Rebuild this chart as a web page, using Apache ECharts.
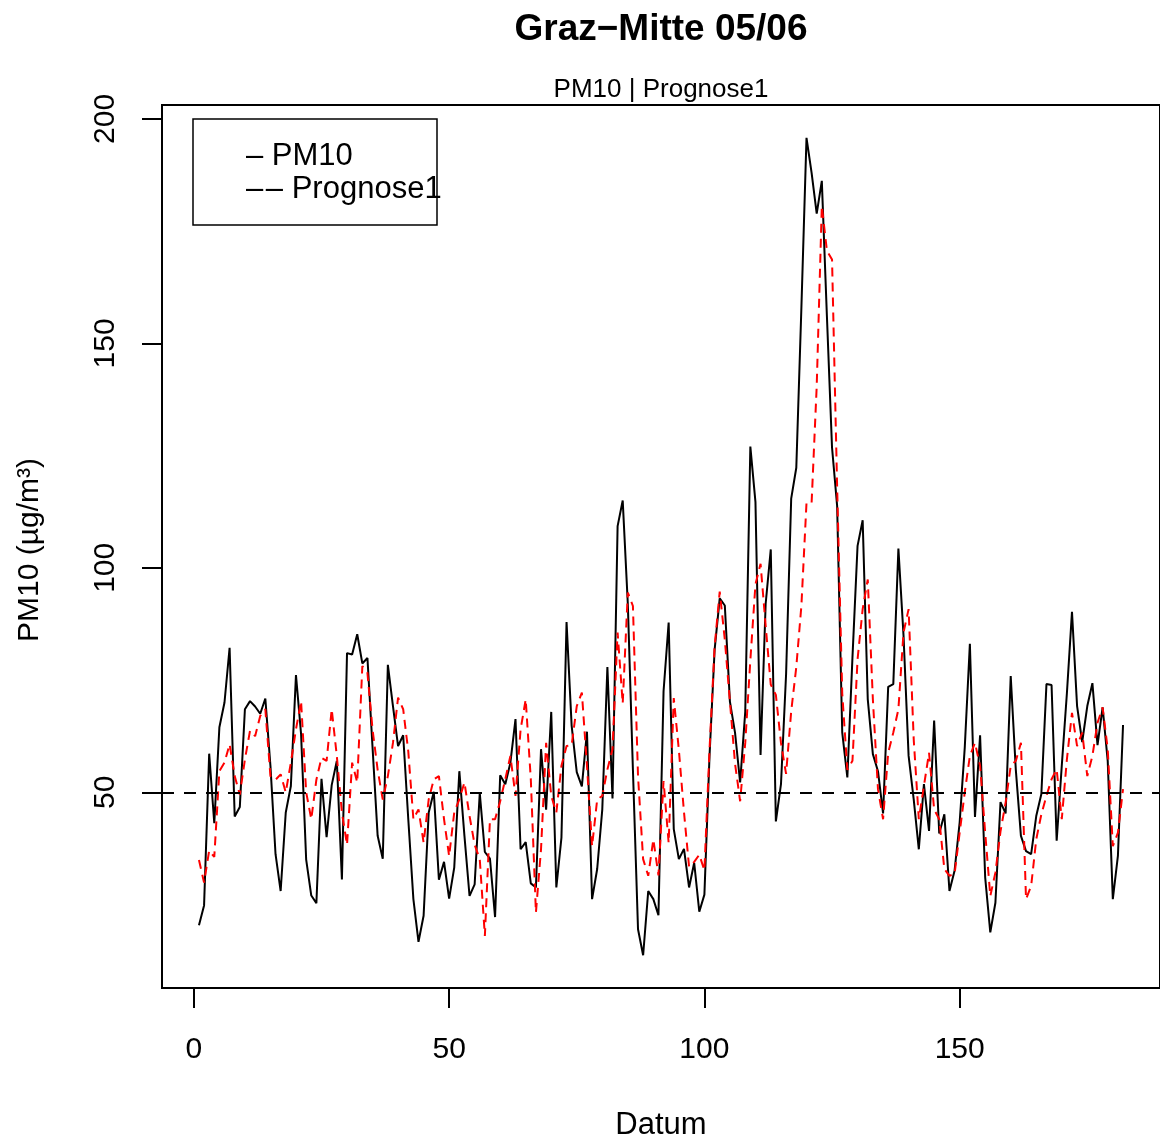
<!DOCTYPE html>
<html>
<head>
    <meta charset="utf-8">
    <title>Graz-Mitte 05/06</title>
    <script type="text/javascript" src="https://cdn.jsdelivr.net/npm/echarts@6/dist/echarts.min.js"></script>
</head>
<body style="margin:0px">
    <div id="main" style="width: 1160px; height: 1140px;"></div>
    <script type="text/javascript">
        // PM10 gemessen, Tag 1..182
        var pm10 = [
            20.4, 24.8, 58.6, 43.1, 64.5, 70, 82.2, 44.6, 46.7, 68.5,
            70.3, 69.1, 67.5, 70.9, 55.9, 36.2, 28.0, 45.5, 51.4, 76.1,
            63, 35, 27, 25.3, 53, 40, 51.6, 57, 30.6, 81,
            80.7, 85.2, 78.7, 79.9, 60, 40.3, 35.2, 78.4, 69.2, 60.3,
            62.7, 44.0, 26.2, 16.7, 22.5, 45.5, 50.1, 30.5, 34.5, 26.3,
            33.2, 54.7, 40.3, 26.9, 29.5, 49.8, 36.7, 35.2, 22.2, 53.8,
            51.8, 56.6, 66.3, 37.3, 38.9, 29.7, 28.8, 59.6, 46.1, 67.9,
            28.8, 39.9, 87.9, 64.8, 54.5, 51.3, 63.5, 26.2, 32.9, 46.2,
            77.9, 48.6, 109.3, 115, 92, 55, 19.5, 13.7, 28, 26.2,
            22.6, 72.5, 87.8, 41.8, 35.1, 37.4, 28.8, 34.3, 23.4, 27.2,
            58, 81.7, 93.2, 91.6, 70.2, 63.3, 52.2, 67.9, 127, 114.7,
            58.3, 92, 104.1, 43.5, 51.8, 76.3, 115.4, 122.3, 158, 195.8,
            188, 178.9, 186.2, 156, 126.8, 113.8, 63.3, 53.3, 80, 104.9,
            110.6, 70.7, 58.5, 54.7, 45.3, 73.5, 74.1, 104.3, 85, 58.1,
            48.4, 37.3, 51.8, 41.4, 66.0, 40.8, 45.1, 28.0, 32.5, 43.3,
            60, 83.1, 44.5, 62.7, 31.0, 18.8, 25.4, 47.8, 45.3, 75.9,
            55, 40.3, 36.9, 36.2, 44.7, 49.6, 74.1, 73.9, 39.2, 55.9,
            72, 90.2, 69.2, 61.2, 69.2, 74.3, 60.5, 68.9, 57.0, 26.2,
            35.9, 65.0
        ];
        // Prognose1
        var prognose1 = [
            34.9, 29.9, 37, 35.6, 54.7, 56.6, 60.7, 53.6, 49.5, 57.3,
            63.7, 62.5, 67, 68.5, 53.6, 52.8, 54, 50, 56.6, 64,
            70.3, 50, 44, 52.8, 57.7, 57, 68.5, 58.1, 45.5, 38.3,
            56.6, 52.2, 78.1, 76.6, 64, 55, 48.4, 53.6, 61, 71.1,
            68.5, 59.1, 44, 46.2, 38.8, 48.4, 52.9, 53.6, 44, 35.8,
            45.5, 48.4, 52.2, 44.7, 38.3, 35.1, 18, 44, 44, 48,
            52.9, 58.1, 49.2, 64, 70.7, 52.9, 23.2, 37.3, 61, 49.2,
            45.5, 55.9, 60.3, 60.5, 69.2, 72.2, 55.9, 38, 48.4, 49.2,
            55.1, 59.6, 85.6, 69.8, 94.5, 91.5, 53.6, 35.1, 31.4, 39.5,
            31.5, 52.5, 38.7, 71, 59.4, 45.6, 33.4, 34.5, 36.1, 32.6,
            59.4, 82.4, 94.7, 84, 70.2, 56.4, 48, 61, 79.4, 96.3,
            100.9, 87.1, 74, 71.7, 61, 54.1, 68, 77.9, 91.6, 114.5,
            114.5, 140.5, 180.6, 170.6, 168.7, 118, 72, 55, 57, 79.6,
            90.8, 97.4, 70.7, 50.7, 44, 58.8, 63.3, 68.5, 85.6, 90.8,
            61.8, 44, 51.4, 58.8, 46.2, 44, 32.9, 31.4, 31.8, 41,
            50, 58.1, 61, 55.9, 41, 26.9, 32.1, 41.3, 47.7, 55.9,
            57, 61, 26.2, 29.1, 39.5, 45.1, 49.2, 52.9, 55.1, 44,
            57.3, 67.7, 60.3, 63.3, 53.6, 58.1, 65.5, 68.9, 59.6, 38,
            41, 50.7
        ];
        var xTicks = [0, 50, 100, 150];
        var yTicks = [50, 100, 150, 200];
        var grenzwert = 50;

        var font = 'Liberation Sans, Arial, Helvetica, sans-serif';

        function toPairs (arr) {
            var out = [];
            for (var i = 0; i < arr.length; i++) {
                out.push([i + 1, arr[i]]);
            }
            return out;
        }

        var myChart = echarts.init(document.getElementById('main'));
        myChart.setOption({
            animation: false,
            backgroundColor: '#fff',
            grid: {
                left: 162, top: 105, width: 1000, height: 883,
                show: true, borderColor: '#000', borderWidth: 2
            },
            xAxis: {
                type: 'value', min: -6.24, max: 189.24,
                splitLine: { show: false },
                axisLine: { show: false, onZero: false },
                axisTick: { show: true, customValues: xTicks, length: 20, lineStyle: { color: '#000', width: 2 } },
                axisLabel: { customValues: xTicks, fontSize: 30, color: '#000', margin: 47, fontFamily: font }
            },
            yAxis: {
                type: 'value', min: 6.4, max: 203.1,
                splitLine: { show: false },
                axisLine: { show: false, onZero: false },
                axisTick: { show: true, customValues: yTicks, length: 20, lineStyle: { color: '#000', width: 2 } },
                axisLabel: { customValues: yTicks, rotate: 90, fontSize: 30, color: '#000', margin: 41, fontFamily: font }
            },
            series: [
                {
                    name: 'PM10', type: 'line', data: toPairs(pm10),
                    showSymbol: false, symbol: 'none',
                    lineStyle: { color: '#000', width: 2 }
                },
                {
                    name: 'Prognose1', type: 'line', data: toPairs(prognose1),
                    showSymbol: false, symbol: 'none',
                    lineStyle: { color: '#ff0000', width: 2, type: [9, 6] },
                    markLine: {
                        silent: true, symbol: 'none', label: { show: false },
                        lineStyle: { color: '#000', width: 2, type: [12, 10] },
                        data: [{ yAxis: grenzwert }]
                    }
                }
            ],
            graphic: [
                { type: 'text', x: 661, y: 30, style: { text: 'Graz\u2212Mitte 05/06', font: 'bold 37px ' + font, fill: '#000', textAlign: 'center', textVerticalAlign: 'middle' } },
                { type: 'text', x: 661, y: 90, style: { text: 'PM10 | Prognose1', font: '26px ' + font, fill: '#000', textAlign: 'center', textVerticalAlign: 'middle' } },
                { type: 'text', x: 661, y: 1125, style: { text: 'Datum', font: '31px ' + font, fill: '#000', textAlign: 'center', textVerticalAlign: 'middle' } },
                { type: 'text', x: 30, y: 550, rotation: Math.PI / 2, style: { text: 'PM10 (\u00b5g/m\u00b3)', font: '30px ' + font, fill: '#000', textAlign: 'center', textVerticalAlign: 'middle' } },
                { type: 'rect', shape: { x: 193, y: 119, width: 244, height: 106 }, style: { fill: 'none', stroke: '#000', lineWidth: 1.5 } },
                { type: 'text', x: 246, y: 156, style: { text: '\u2013 PM10', font: '31px ' + font, fill: '#000', textVerticalAlign: 'middle' } },
                { type: 'text', x: 246, y: 189, style: { text: '\u2013\u200a\u2013 Prognose1', font: '31px ' + font, fill: '#000', textVerticalAlign: 'middle' } }
            ]
        });
    </script>
</body>
</html>
